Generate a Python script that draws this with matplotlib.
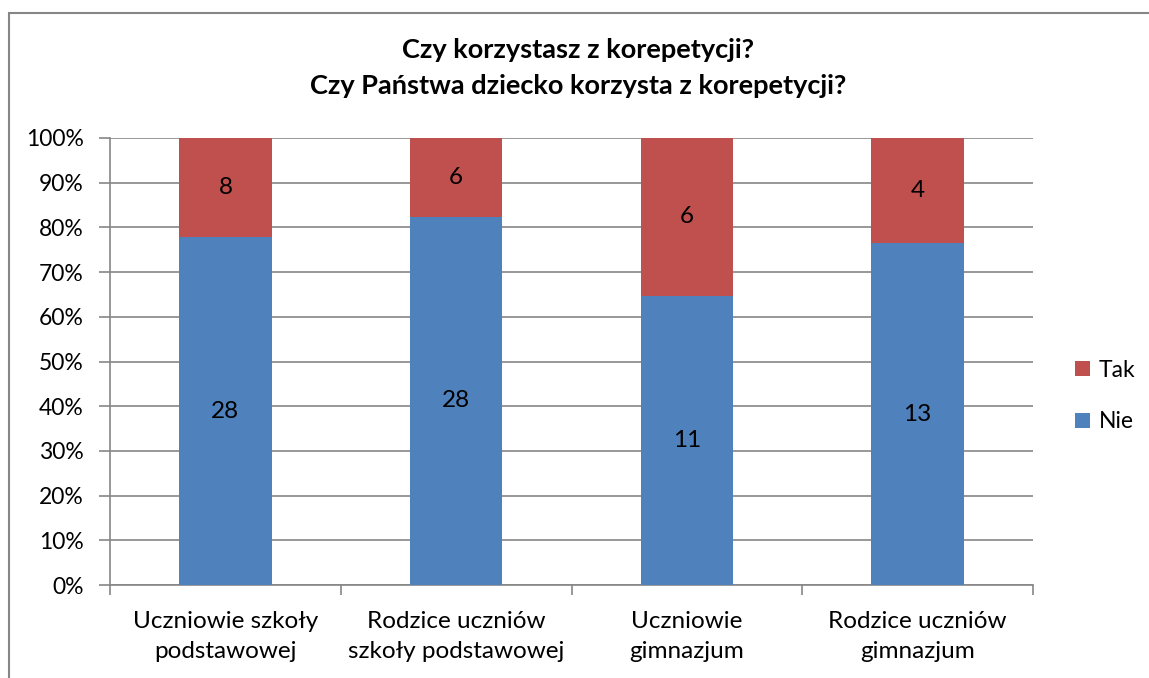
import matplotlib.pyplot as plt
from matplotlib.patches import Rectangle
from matplotlib.ticker import PercentFormatter
import numpy as np

plt.rcParams['font.family'] = ['Lato', 'DejaVu Sans']

categories = ['Uczniowie szkoły\npodstawowej', 'Rodzice uczniów\nszkoły podstawowej',
              'Uczniowie\ngimnazjum', 'Rodzice uczniów\ngimnazjum']
nie = [28, 28, 11, 13]
tak = [8, 6, 6, 4]

blue = '#4F81BD'
red = '#C0504D'
grid_c = '#868686'

nie = np.array(nie, dtype=float)
tak = np.array(tak, dtype=float)
total = nie + tak
nie_pct = nie / total * 100
tak_pct = tak / total * 100

fig = plt.figure(figsize=(11.49, 6.78), dpi=100)
ax = fig.add_axes([110/1149, 1 - 585/678, (1033-110)/1149, (585-138)/678])

# outer chart frame
fig.patches.append(Rectangle((9/1149, -0.05), 1.2, 1 - 13/678 + 0.05, transform=fig.transFigure,
                             fill=False, edgecolor=grid_c, linewidth=1.5))

x = np.arange(len(categories))
b1 = ax.bar(x, nie_pct, width=0.4, color=blue, label='Nie', zorder=3)
b2 = ax.bar(x, tak_pct, width=0.4, bottom=nie_pct, color=red, label='Tak', zorder=3)

for i in range(len(x)):
    ax.text(x[i], nie_pct[i] / 2, '%d' % nie[i], ha='center', va='center', fontsize=17.5, zorder=4)
    ax.text(x[i], nie_pct[i] + tak_pct[i] / 2, '%d' % tak[i], ha='center', va='center', fontsize=17.5, zorder=4)

ax.set_xlim(-0.5, 3.5)
ax.set_ylim(0, 100)
ax.set_yticks(np.arange(0, 101, 10))
ax.yaxis.set_major_formatter(PercentFormatter(decimals=0))
ax.grid(axis='y', color=grid_c, linewidth=1.2, zorder=0)
for s in ['top', 'right']:
    ax.spines[s].set_visible(False)
for s in ['left', 'bottom']:
    ax.spines[s].set_color(grid_c)
    ax.spines[s].set_linewidth(1.2)

ax.set_xticks(np.arange(-0.5, 4, 1))
ax.set_xticklabels([])
ax.set_xticks(x, minor=True)
ax.set_xticklabels(categories, minor=True, fontsize=17.5, linespacing=1.5)
ax.tick_params(axis='x', which='major', length=7, color=grid_c, width=1.2)
ax.tick_params(axis='x', which='minor', length=0, pad=19)
ax.tick_params(axis='y', length=8, color=grid_c, width=1.2, labelsize=16.5, pad=11)

fig.text(578/1149, 1 - 68/678, 'Czy korzystasz z korepetycji?\nCzy Państwa dziecko korzysta z korepetycji?',
         ha='center', va='center', fontsize=19.5, fontweight='bold', linespacing=1.55)

handles = [b2, b1]
fig.legend(handles, ['Tak', 'Nie'], loc='center left', bbox_to_anchor=(1075/1149, 1 - 396/678),
           frameon=False, fontsize=16.5, handlelength=0.65, handleheight=0.65, handletextpad=0.4,
           labelspacing=1.35, borderpad=0, borderaxespad=0)

plt.savefig('out.png', dpi=100)
